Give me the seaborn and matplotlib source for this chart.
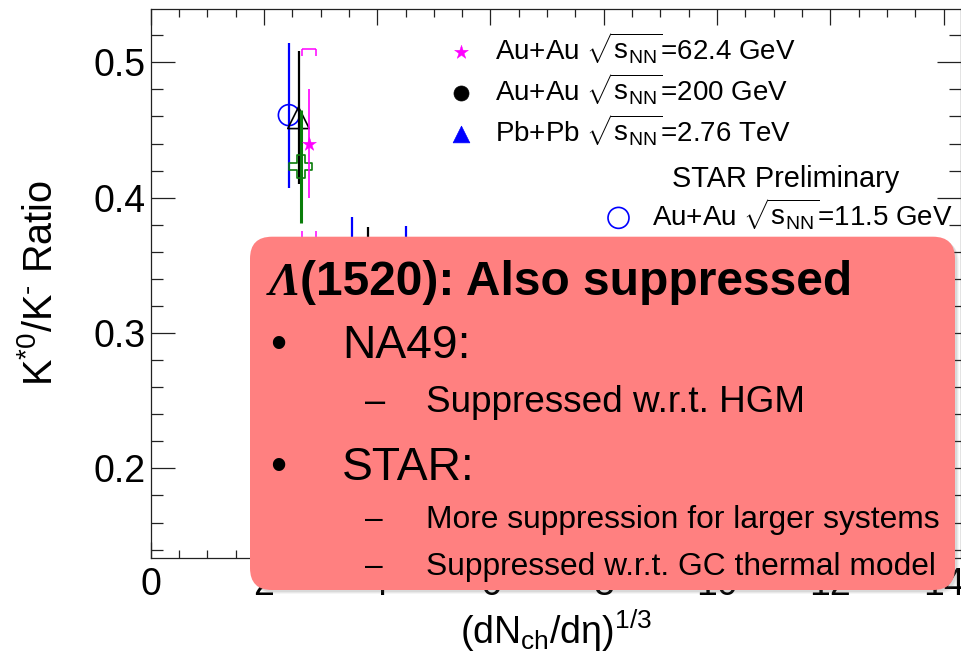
import matplotlib
matplotlib.use("Agg")
import matplotlib.pyplot as plt
from matplotlib.patches import FancyBboxPatch
from matplotlib.ticker import MultipleLocator, FuncFormatter
import seaborn as sns

# ---------------- data ----------------
# STAR preliminary, Au+Au sqrt(sNN)=11.5 GeV (open circle)
auau115_x = [2.44]
auau115_y = [0.461]
auau115_err = [0.0535]

# open black triangle series
tri_open_x = [2.61]
tri_open_y = [0.459]
tri_open_err = [0.049]

# open green cross series
cross_x = [2.65]
cross_y = [0.423]
cross_err = [0.0415]

# Au+Au sqrt(sNN)=62.4 GeV (star): statistical and systematic errors
auau62_x = [2.80]
auau62_y = [0.440]
auau62_stat = [0.040]
auau62_sys = [0.070]

# Au+Au sqrt(sNN)=200 GeV (filled circle)
auau200_x = [3.84]
auau200_y = [0.330]
auau200_err = [0.0486]

# Pb+Pb sqrt(sNN)=2.76 TeV (filled triangle)
pbpb_x = [3.56, 4.51]
pbpb_y = [0.340, 0.335]
pbpb_err = [0.046, 0.044]

legend_main = [
    r"Au+Au $\sqrt{s_{NN}}$=62.4 GeV",
    r"Au+Au $\sqrt{s_{NN}}$=200 GeV",
    r"Pb+Pb $\sqrt{s_{NN}}$=2.76 TeV",
]
legend_star = [r"Au+Au $\sqrt{s_{NN}}$=11.5 GeV"]

box_title = "(1520): Also suppressed"
box_lines = [
    ("bullet", "NA49:"),
    ("dash", "Suppressed w.r.t. HGM"),
    ("bullet", "STAR:"),
    ("dash2", "More suppression for larger systems"),
    ("dash2", "Suppressed w.r.t. GC thermal model"),
]

# ---------------- style ----------------
sns.set_theme(style="ticks")
plt.rcParams["font.family"] = ["Liberation Sans", "DejaVu Sans"]
plt.rcParams["mathtext.fontset"] = "custom"
plt.rcParams["mathtext.rm"] = "Liberation Sans"
plt.rcParams["mathtext.it"] = "Liberation Sans:italic"
plt.rcParams["mathtext.default"] = "regular"
plt.rcParams["text.color"] = "black"
plt.rcParams["axes.labelcolor"] = "black"

W, H, DPI = 961, 660, 100
fig = plt.figure(figsize=(W / DPI, H / DPI), dpi=DPI)
ax = fig.add_axes([150.7 / W, 1 - 557.7 / H, (960.5 - 150.7) / W, (557.7 - 9) / H])

BLUE, BLACK, GREEN, MAGENTA = "#0000ff", "#000000", "#0a7d0a", "#ff00ff"


def points(x, y, marker, color, size, filled, z, label=None, lw=1.2):
    sns.scatterplot(x=x, y=y, marker=marker, s=size, color=color,
                    facecolor=(color if filled else "none"), edgecolor=color,
                    linewidth=lw, ax=ax, zorder=z, label=label, legend=False)
    return ax.collections[-1]


def bars(x, y, err, color, lw, z):
    ax.errorbar(x, y, yerr=err, fmt="none", ecolor=color, elinewidth=lw,
                capsize=0, zorder=z)


# Pb+Pb 2.76 TeV
bars(pbpb_x, pbpb_y, pbpb_err, BLUE, 1.6, 2.0)
h_pb = points(pbpb_x, pbpb_y, "^", BLUE, 144, True, 2.5, legend_main[2], lw=0.5)

# Au+Au 200 GeV
bars(auau200_x, auau200_y, auau200_err, BLACK, 1.6, 2.1)
h_200 = points(auau200_x, auau200_y, "o", BLACK, 117, True, 2.6, legend_main[1], lw=0.5)

# STAR 11.5 GeV
bars(auau115_x, auau115_y, auau115_err, BLUE, 1.6, 3.0)
h_115 = points(auau115_x, auau115_y, "o", BLUE, 228, False, 3.1, legend_star[0])

# open triangles
bars(tri_open_x, tri_open_y, tri_open_err, BLACK, 1.6, 3.2)
points(tri_open_x, tri_open_y, "^", BLACK, 240, False, 3.3)

# open crosses
bars(cross_x, cross_y, cross_err, GREEN, 2.2, 3.4)
points(cross_x, cross_y, "P", GREEN, 275, False, 3.5)

# Au+Au 62.4 GeV: systematic brackets, statistical bars, stars
half_w, tip = 0.127, 0.0052
for xi, yi, si in zip(auau62_x, auau62_y, auau62_sys):
    ax.hlines([yi + si, yi - si], xi - half_w, xi + half_w, color=MAGENTA, lw=1.1, zorder=3.6)
    ax.vlines([xi - half_w, xi + half_w], yi + si - tip, yi + si, color=MAGENTA, lw=1.1, zorder=3.6)
    ax.vlines([xi - half_w, xi + half_w], yi - si, yi - si + tip, color=MAGENTA, lw=1.1, zorder=3.6)
bars(auau62_x, auau62_y, auau62_stat, MAGENTA, 1.2, 3.7)
h_62 = points(auau62_x, auau62_y, "*", MAGENTA, 110, True, 3.8, legend_main[0], lw=0.3)

# ---------------- axes ----------------
ax.set_xlim(0, 14.3)
ax.set_ylim(0.134, 0.5394)
ax.xaxis.set_major_locator(MultipleLocator(2))
ax.xaxis.set_minor_locator(MultipleLocator(0.5))
ax.yaxis.set_major_locator(MultipleLocator(0.1))
ax.yaxis.set_minor_locator(MultipleLocator(0.02))
ax.xaxis.set_major_formatter(FuncFormatter(lambda v, p: f"{v:g}"))
ax.yaxis.set_major_formatter(FuncFormatter(lambda v, p: f"{v:.1f}"))
for s in ax.spines.values():
    s.set_visible(True)
    s.set_color("#222222")
    s.set_linewidth(0.9)
ax.tick_params(which="both", direction="in", top=True, right=True,
               colors="#222222", width=0.9, labelcolor="black", labelsize=27)
ax.tick_params(axis="x", which="major", length=11.5, pad=7)
ax.tick_params(axis="x", which="minor", length=5.5)
ax.tick_params(axis="y", which="major", length=17.5, pad=4)
ax.tick_params(axis="y", which="minor", length=8.6)

ax.set_xlabel(r"$(dN_{ch}/d\eta)^{1/3}$", fontsize=27, labelpad=3)
ax.set_ylabel("K$^{*0}$/K$^{\u2010}$ Ratio", fontsize=28.5, labelpad=24)

# ---------------- legends ----------------
leg1 = ax.legend(handles=[h_62, h_200, h_pb], labels=legend_main,
                 loc="upper left", bbox_to_anchor=(449.6 / W, 1 - 30 / H),
                 bbox_transform=fig.transFigure, frameon=False, fontsize=20,
                 handlelength=0.8, handletextpad=0.85, labelspacing=0.2,
                 borderpad=0, borderaxespad=0, scatterpoints=1)
ax.add_artist(leg1)
ax.text(671.7 / W, 1 - 186.7 / H, "STAR Preliminary", fontsize=20.8,
        transform=fig.transFigure, va="baseline", ha="left")
leg2 = ax.legend(handles=[h_115], labels=legend_star,
                 loc="upper left", bbox_to_anchor=(606 / W, 1 - 196 / H),
                 bbox_transform=fig.transFigure, frameon=False, fontsize=20,
                 handlelength=0.9, handletextpad=0.75,
                 borderpad=0, borderaxespad=0, scatterpoints=1)

# ---------------- overlay box ----------------
bx0, by0, bx1, by1 = 250, 236.7, 955, 590  # pixel extents, from top-left
for k, a in ((4, 0.06), (3, 0.08), (2, 0.10)):
    fig.add_artist(FancyBboxPatch(((bx0 + k) / DPI, (H - by1 - k) / DPI),
                                  (bx1 - bx0) / DPI, (by1 - by0) / DPI,
                                  boxstyle="round,pad=0,rounding_size=0.22",
                                  transform=fig.dpi_scale_trans, fc="#555555",
                                  ec="none", alpha=a, zorder=9))
fig.add_artist(FancyBboxPatch((bx0 / DPI, (H - by1) / DPI),
                              (bx1 - bx0) / DPI, (by1 - by0) / DPI,
                              boxstyle="round,pad=0,rounding_size=0.22",
                              transform=fig.dpi_scale_trans, fc="#ff8080",
                              ec="none", zorder=10))


def ptext(x, y, s, **kw):
    fig.text(x / DPI, (H - y) / DPI, s, transform=fig.dpi_scale_trans,
             va="baseline", ha=kw.pop("ha", "left"), zorder=11,
             color="black", **kw)


ptext(269, 295, "\u039b", fontsize=34, family="Liberation Serif",
      style="italic", weight="bold")
ptext(300, 295, box_title, fontsize=34.5, weight="bold")

rows_y = [358.3, 411.7, 480, 528.3, 575]
for (kind, txt), yb in zip(box_lines, rows_y):
    if kind == "bullet":
        ptext(277.7, yb, "\u2022", fontsize=33, ha="center")
        ptext(342, yb, txt, fontsize=33.3)
    elif kind == "dash":
        ptext(365, yb, "\u2013", fontsize=26)
        ptext(426, yb, txt, fontsize=26.6)
    else:
        ptext(365, yb, "\u2013", fontsize=22.8)
        ptext(426, yb, txt, fontsize=22.9)

fig.savefig("out.png", dpi=DPI)
